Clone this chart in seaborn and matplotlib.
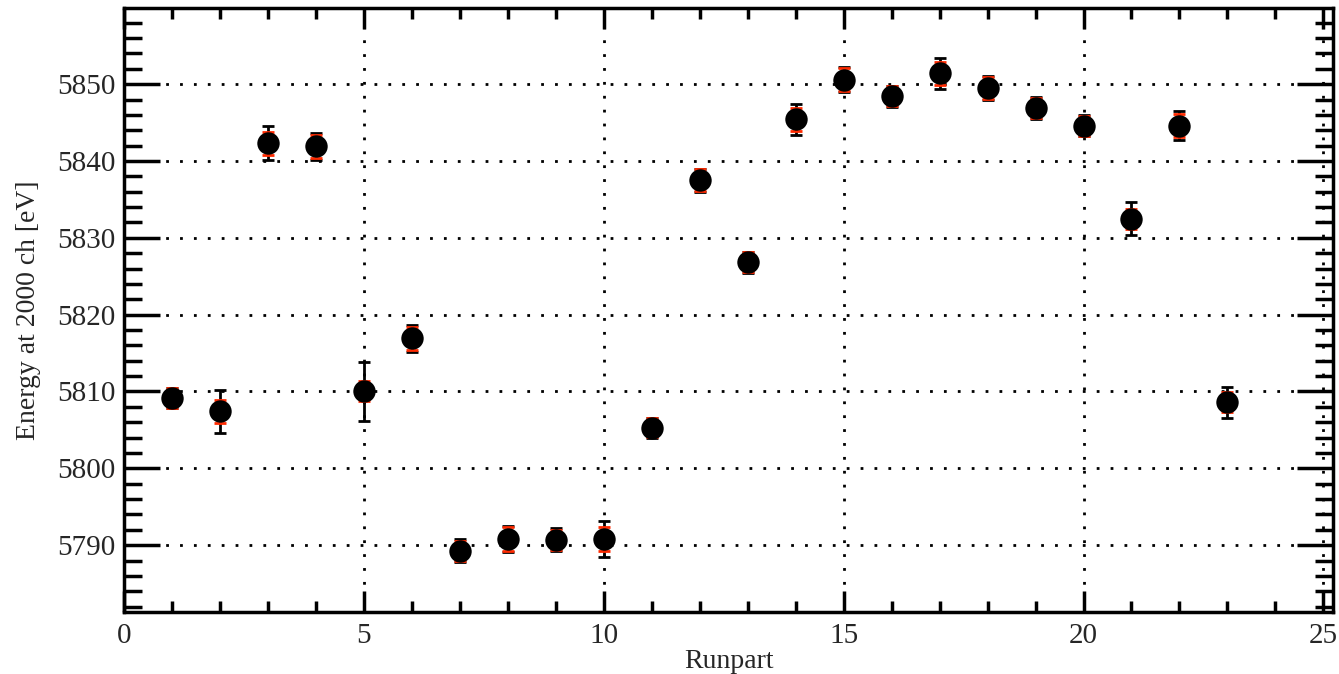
import numpy as np
import pandas as pd
import matplotlib
matplotlib.use("Agg")
import matplotlib.pyplot as plt
import seaborn as sns
from matplotlib.ticker import MultipleLocator

# DATA

runpart = [1, 2, 3, 4, 5, 6, 7, 8, 9, 10, 11, 12, 13, 14, 15, 16, 17, 18, 19, 20, 21, 22, 23]
energy = [5809.1, 5807.4, 5842.3, 5841.9, 5810.0, 5816.9, 5789.3, 5790.8, 5790.7, 5790.8,
          5805.3, 5837.5, 5826.8, 5845.4, 5850.6, 5848.4, 5851.4, 5849.5, 5846.9, 5844.6,
          5832.5, 5844.6, 5808.6]
err_total = [1.3, 2.8, 2.2, 1.8, 3.8, 1.7, 1.5, 1.7, 1.5, 2.4,
             1.3, 1.5, 1.4, 2.0, 1.6, 1.4, 2.0, 1.5, 1.4, 1.4,
             2.1, 1.9, 2.0]
err_stat = [1.3, 1.5, 1.5, 1.5, 1.3, 1.5, 1.3, 1.5, 1.3, 1.5,
            1.2, 1.4, 1.3, 1.5, 1.5, 1.3, 1.5, 1.4, 1.3, 1.3,
            1.3, 1.5, 1.3]

df = pd.DataFrame({"Runpart": runpart, "Energy": energy})

# PLOT

sns.set_style("ticks")
plt.rcParams["font.family"] = ["Liberation Serif", "DejaVu Serif"]

fig = plt.figure(figsize=(13.39, 6.74), dpi=100)
ax = fig.add_axes([0.0926, 0.092, 0.9029, 0.896])

ax.errorbar(runpart, energy, yerr=err_total, fmt="none", ecolor="black",
            elinewidth=2, capsize=4, capthick=2, zorder=3)
ax.errorbar(runpart, energy, yerr=err_stat, fmt="none", ecolor="#ff2a00",
            elinewidth=2, capsize=4, capthick=2, zorder=4)

sns.scatterplot(data=df, x="Runpart", y="Energy", color="black", s=260,
                edgecolor="black", linewidth=0, zorder=5, ax=ax)

ax.set_xlim(0, 25.2)
ax.set_ylim(5781.3, 5859.9)

ax.xaxis.set_major_locator(MultipleLocator(5))
ax.xaxis.set_minor_locator(MultipleLocator(1))
ax.yaxis.set_major_locator(MultipleLocator(10))
ax.yaxis.set_minor_locator(MultipleLocator(2))

ax.tick_params(which="both", direction="in", top=True, right=True, width=2.5,
               labelsize=21, color="black")
ax.tick_params(axis="x", which="major", length=15, pad=8)
ax.tick_params(axis="x", which="minor", length=8)
ax.tick_params(axis="y", which="major", length=26, pad=6)
ax.tick_params(axis="y", which="minor", length=13)

ax.grid(True, which="major", linestyle=(0, (1, 4)), color="black", linewidth=2)

for s in ax.spines.values():
    s.set_linewidth(2.5)
    s.set_color("black")

ax.set_xlabel("Runpart", fontsize=20, labelpad=0)
ax.set_ylabel("Energy at 2000 ch [eV]", fontsize=20, labelpad=12)

fig.savefig("out.png", dpi=100)
